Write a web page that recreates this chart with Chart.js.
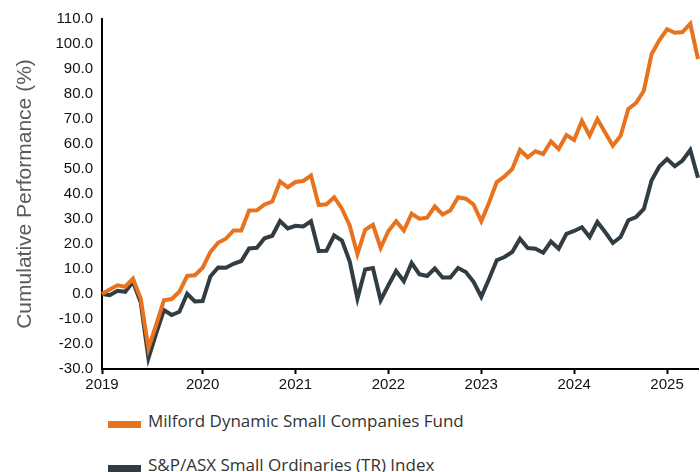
<!DOCTYPE html>
<html>
<head>
<meta charset="utf-8">
<script src="https://cdn.jsdelivr.net/npm/chart.js@4/dist/chart.umd.min.js"></script>
<style>
  body { margin: 0; background: #fff; }
  #wrap { position: relative; width: 700px; height: 472px; overflow: hidden; }
  #chart { position: absolute; left: 0; top: 0; }
  .legend-item { position: absolute; left: 108px; font-family: 'Open Sans', sans-serif; font-size: 17px; line-height: 17px; color: #333; white-space: nowrap; }
  .legend-item .box { position: absolute; left: 0; width: 33px; height: 7px; }
  .legend-item .txt { position: absolute; left: 40px; }
</style>
</head>
<body>
<div id="wrap">
  <canvas id="chart" width="700" height="400"></canvas>
  <div id="legend"></div>
</div>
<script>
// month-end points, Dec 2018 .. May 2025
const startYear = 2018
const startMonth = 11
const monthCount = 78
const months = []
for (let i = 0; i < monthCount; i++) {
  const m = (startMonth + i) % 12
  const y = startYear + Math.floor((startMonth + i) / 12)
  months.push(y + '-' + String(m + 1).padStart(2, '0'))
}

// x-axis tick labels and where they sit
const yearTicks = [0, 13, 25, 37, 49, 61, 73]
const yearLabels = ['2019', '2020', '2021', '2022', '2023', '2024', '2025']

const fundLabel = 'Milford Dynamic Small Companies Fund'
const fund = [
  0, 1.8, 3.5, 2.9, 6.1, -1.8, -21.7, -12.3, -2.5, -2, 0.9, 7.2, 7.5,
  10.5, 16.8, 20.5, 22.1, 25.4, 25.4, 33.4, 33.5, 35.8, 37, 45, 42.7,
  44.8, 45.2, 47.4, 35.6, 35.9, 38.7, 34.1, 27.4, 15.9, 25.7, 27.7, 18.5,
  25.2, 29.1, 25.4, 32.1, 30.1, 30.5, 35, 31.8, 33.4, 38.7, 38.1, 35.8,
  29.1, 36.5, 44.8, 47, 50, 57.6, 54.7, 57.1, 56, 61, 58, 63.6,
  61.6, 69.3, 63.3, 70, 64.6, 59.3, 63.3, 74, 76.4, 81.3, 95.9, 101.5,
  105.9, 104.5, 104.8, 108.1, 94
]

const indexLabel = 'S&P/ASX Small Ordinaries (TR) Index'
const index = [
  0, -0.5, 1.3, 0.9, 4.9, -3.3, -25.7, -15.8, -6.4, -8.4, -7.1, 0.1, -3,
  -2.8, 7, 10.6, 10.5, 12.1, 13.2, 18.2, 18.5, 22.3, 23.3, 29.2, 26.2,
  27.3, 27, 29.1, 17.2, 17.3, 23.4, 21.4, 13.1, -1.8, 9.8, 10.4, -2.5,
  3.5, 9.2, 5.1, 12.4, 7.9, 7.2, 10.2, 6.6, 6.6, 10.4, 8.8, 4.9,
  -1.1, 6, 13.5, 14.8, 16.8, 22.1, 18.4, 18.1, 16.5, 21, 18.1, 24.1,
  25.2, 26.7, 22.8, 28.8, 24.8, 20.4, 22.8, 29.5, 30.8, 34, 45.4, 51,
  54, 51.1, 53.4, 57.6, 46.5
]

const orange = '#e8731f'
const slate = '#313c43'

const ctx = document.getElementById('chart')

const myChart = new Chart(ctx, {
  type: 'line',
  data: {
    labels: months,
    datasets: [
      { label: fundLabel, data: fund, borderColor: orange, backgroundColor: orange },
      { label: indexLabel, data: index, borderColor: slate, backgroundColor: slate },
    ],
  },
  options: {
    responsive: false,
    animation: false,
    borderWidth: 4,
    radius: 0,
    tension: 0,
    fill: false,
    layout: { padding: { top: 19, right: 0, left: 0, bottom: 0 } },
    plugins: {
      legend: { display: false },
      tooltip: { enabled: false },
    },
    scales: {
      x: {
        type: 'category',
        grid: {
          display: true,
          drawOnChartArea: false,
          drawTicks: true,
          tickLength: 5,
          tickWidth: 2,
          tickColor: (c) => (yearTicks.includes(c.index) ? '#000' : 'rgba(0,0,0,0)'),
        },
        border: { display: true, color: '#000', width: 2 },
        ticks: {
          autoSkip: false,
          maxRotation: 0,
          minRotation: 0,
          padding: 2,
          color: '#111',
          font: { family: 'Liberation Sans', size: 15 },
          callback: (v, i) => {
            const k = yearTicks.indexOf(i)
            return k === -1 ? '' : yearLabels[k]
          },
        },
        afterFit: (scale) => { scale.height = 31 },
      },
      y: {
        min: -30,
        max: 110,
        grid: { display: false, drawTicks: false },
        border: { display: true, color: '#000', width: 2 },
        ticks: {
          stepSize: 10,
          padding: 9,
          color: '#111',
          font: { family: 'Liberation Sans', size: 15 },
          callback: (v) => v.toFixed(1),
        },
        title: {
          display: true,
          text: 'Cumulative Performance (%)',
          color: '#5b5b5b',
          font: { family: 'Liberation Sans', size: 21, weight: 'normal' },
          padding: { top: 13, bottom: 0 },
        },
        afterFit: (scale) => { scale.width = 102 },
      },
    },
  },
})

// legend, stacked one item per row under the axis
const legendTops = [412, 456]
const legendEl = document.getElementById('legend')
myChart.data.datasets.forEach((ds, i) => {
  const item = document.createElement('div')
  item.className = 'legend-item'
  item.style.top = legendTops[i] + 'px'
  item.innerHTML = '<span class="box" style="top:9px;background:' + ds.borderColor + '"></span>' +
    '<span class="txt"></span>'
  item.querySelector('.txt').textContent = ds.label
  legendEl.appendChild(item)
})
</script>
</body>
</html>
